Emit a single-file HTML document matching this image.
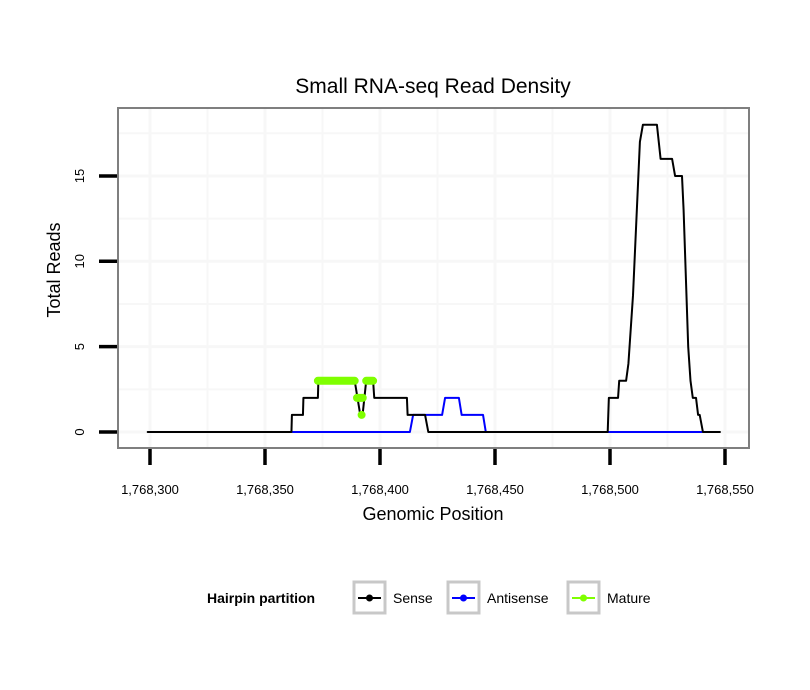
<!DOCTYPE html>
<html><head><meta charset="utf-8"><style>
body{margin:0;background:#fff;}
svg{display:block;font-family:"Liberation Sans",sans-serif;}
</style></head><body>
<svg id="chart" width="810" height="690">
<rect width="810" height="690" fill="#fff"/>
<text x="433" y="93" font-size="21" text-anchor="middle">Small RNA-seq Read Density</text>
<g id="grid"></g>
<g id="series"></g>
<rect x="118" y="108" width="631" height="340" fill="none" stroke="#7f7f7f" stroke-width="2"/>
<g id="axes"></g>
<text x="433" y="520" font-size="18" text-anchor="middle">Genomic Position</text>
<text transform="translate(60,270) rotate(-90)" font-size="18" text-anchor="middle">Total Reads</text>
<g>
<text x="207" y="603" font-size="14" font-weight="bold">Hairpin partition</text>
<g>
<rect x="354" y="582" width="31" height="31" fill="#fff" stroke="#c8c8c8" stroke-width="3"/>
<line x1="358" y1="598" x2="381" y2="598" stroke="#000" stroke-width="2"/><circle cx="369.5" cy="598" r="3.5" fill="#000"/>
<text x="393" y="603" font-size="14">Sense</text></g>
<g>
<rect x="448" y="582" width="31" height="31" fill="#fff" stroke="#c8c8c8" stroke-width="3"/>
<line x1="452" y1="598" x2="475" y2="598" stroke="#0000ff" stroke-width="2"/><circle cx="463.5" cy="598" r="3.5" fill="#0000ff"/>
<text x="487" y="603" font-size="14">Antisense</text></g>
<g>
<rect x="568" y="582" width="31" height="31" fill="#fff" stroke="#c8c8c8" stroke-width="3"/>
<line x1="572" y1="598" x2="595" y2="598" stroke="#7fff00" stroke-width="2"/><circle cx="583.5" cy="598" r="3.5" fill="#7fff00"/>
<text x="607" y="603" font-size="14">Mature</text></g>
</g>
</svg>
<script>
const xTicks=[1768300,1768350,1768400,1768450,1768500,1768550];
const xTickLabels=["1,768,300","1,768,350","1,768,400","1,768,450","1,768,500","1,768,550"];
const yTicks=[0,5,10,15];
const yTickLabels=["0","5","10","15"];
const sensePos=[1768299,1768361.5,1768361.7,1768366.5,1768366.7,1768373,1768373.2,1768389,1768391.3,1768392.5,1768394,1768397,1768397.5,1768411.7,1768412,1768419.6,1768421,1768499,1768499.5,1768503.5,1768504,1768507,1768508,1768510,1768513,1768514.3,1768520.4,1768522,1768527,1768528.3,1768531.3,1768532,1768534,1768535,1768536,1768537.4,1768538.3,1768539,1768540.4,1768547.8];
const senseVal=[0,0,1,1,2,2,3,3,1.1,1.1,3,3,2,2,1,1,0,0,2,2,3,3,4,8,17,18,18,16,16,15,15,13,5,3,2,2,1,1,0,0];
const antiPos=[1768362,1768413,1768414.4,1768427,1768428.3,1768434.3,1768435.5,1768444.8,1768446,1768540];
const antiVal=[0,0,1,1,2,2,1,1,0,0];
const maturePos=[1768373,1768389,null,1768390,1768392.5,null,1768392,1768392,null,1768394,1768397];
const matureVal=[3,3,null,2,2,null,1,1,null,3,3];
const NS='http://www.w3.org/2000/svg';
const X=v=>150+(v-1768300)*2.3;
const Y=v=>432-v*17.07;
function mk(tag,attrs,parent){const e=document.createElementNS(NS,tag);for(const k in attrs)e.setAttribute(k,attrs[k]);parent.appendChild(e);return e;}
const grid=document.getElementById('grid'),axes=document.getElementById('axes'),ser=document.getElementById('series');
mk('rect',{x:118,y:108,width:631,height:340,fill:'#fff'},grid);
for(let v=1768275;v<=1768575;v+=25){const x=X(v);if(x<119||x>748)continue;
const l=mk('line',{x1:x,x2:x,y1:109,y2:447,stroke:'#f7f7f7','stroke-width':v%50?2:3},grid);

}
for(let v=0;v<=17.5;v+=2.5){const y=Y(v);
const l=mk('line',{x1:119,x2:748,y1:y,y2:y,stroke:'#f7f7f7','stroke-width':v%5?2:3},grid);

}
xTicks.forEach((v,i)=>{const x=X(v);
const t=mk('line',{x1:x,x2:x,y1:449,y2:465,stroke:'#000','stroke-width':3.5},axes);


const s=mk('text',{x:x,y:494,'font-size':13,'text-anchor':'middle'},axes);s.textContent=xTickLabels[i];

});
yTicks.forEach((v,i)=>{const y=Y(v);
const t=mk('line',{x1:99,x2:117,y1:y,y2:y,stroke:'#000','stroke-width':3.5},axes);


const s=mk('text',{transform:`translate(84,${y}) rotate(-90)`,'font-size':13,'text-anchor':'middle'},axes);s.textContent=yTickLabels[i];

});
function line(pos,val,color,w,name){
let d='',pen=false;
pos.forEach((p,i)=>{if(p===null){pen=false;return;}d+=(pen?'L':'M')+X(p)+','+Y(val[i])+' ';pen=true;});
const pl=mk('path',{d:d,fill:'none',stroke:color,'stroke-width':w,'stroke-linejoin':'round','stroke-linecap':'round'},ser);

}
line(antiPos,antiVal,'#0000ff',2,'antisense-line');
line(sensePos,senseVal,'#000',2,'sense-line');
line(maturePos,matureVal,'#7fff00',8,'mature-line');
</script>
</body></html>
